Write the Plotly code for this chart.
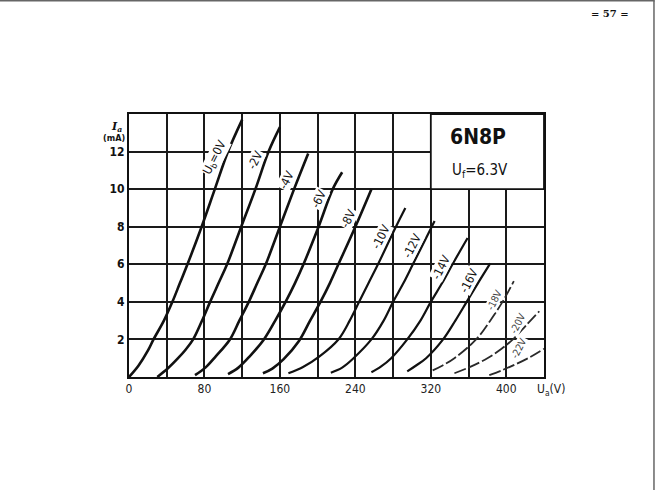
import plotly.graph_objects as go

# ---- data ----
grid_labels = ["U<sub>b</sub>=0V", "-2V", "-4V", "-6V", "-8V", "-10V", "-12V",
               "-14V", "-16V", "-18V", "-20V", "-22V"]

ua_0 = [0, 10, 20, 26, 37, 46, 54, 62, 77, 91, 105, 120]
ia_0 = [0, 0.6, 1.4, 2, 3, 4, 5, 6, 8, 10, 12, 13.7]
ua_2 = [30, 41, 52, 60, 68, 77, 86, 95, 104, 119, 134, 148, 160]
ia_2 = [0, 0.45, 1.0, 1.45, 2, 2.95, 4, 5, 6, 8, 10, 12, 13.3]
ua_4 = [70, 81, 92, 107, 117, 127, 136, 145, 160, 175, 190]
ia_4 = [0.1, 0.5, 1.1, 2, 3, 4, 5, 6, 8, 10, 11.9]
ua_6 = [105, 116, 128, 143, 155, 166, 176, 185, 201, 216, 226]
ia_6 = [0.15, 0.5, 1.1, 2, 3, 4, 5, 6, 8, 10, 10.9]
ua_8 = [142, 152, 164, 180, 192, 203, 213, 222, 240, 257]
ia_8 = [0.2, 0.45, 0.95, 1.9, 3, 4, 5, 6, 8, 10]
ua_10 = [169, 185, 202, 222, 234, 244, 254, 264, 283, 293]
ia_10 = [0.2, 0.55, 1.1, 2, 3, 4, 5, 6, 8, 9.0]
ua_12 = [214, 226, 238, 257, 270, 280, 291, 301, 321, 324]
ia_12 = [0.23, 0.5, 1.0, 2, 3, 4, 5, 6, 8, 8.3]
ua_14 = [257, 267, 278, 295, 309, 320, 332, 343, 359]
ia_14 = [0.25, 0.55, 1.0, 2, 3, 4, 5, 6, 7.4]
ua_16 = [295, 304, 315, 333, 346, 358, 370, 383]
ia_16 = [0.3, 0.6, 1.0, 2, 3, 4, 5, 6.05]
ua_18 = [322, 332, 345, 368, 383, 396, 408]
ia_18 = [0.35, 0.6, 1.0, 2, 3, 4, 5.1]
ua_20 = [345, 360, 380, 395, 407, 421, 435]
ia_20 = [0.2, 0.5, 1.0, 1.5, 2, 2.75, 3.5]
ua_22 = [382, 395, 411, 425, 440]
ia_22 = [0.1, 0.35, 0.7, 1.05, 1.5]

curves_ua = [ua_0, ua_2, ua_4, ua_6, ua_8, ua_10, ua_12, ua_14, ua_16, ua_18, ua_20, ua_22]
curves_ia = [ia_0, ia_2, ia_4, ia_6, ia_8, ia_10, ia_12, ia_14, ia_16, ia_18, ia_20, ia_22]

# label anchor points (Ua, Ia) for the curve labels
label_ua = [92, 134, 167, 201, 233, 267, 300, 331, 361, 388, 412, 413]
label_ia = [11.7, 11.55, 10.5, 9.5, 8.45, 7.47, 7.0, 5.87, 5.16, 4.1, 2.86, 1.53]

x_ticks = [0, 80, 160, 240, 320, 400]
y_ticks = [2, 4, 6, 8, 10, 12]

tube_name = "6N8P"
heater = "U<sub>f</sub>=6.3V"
page_no = "= 57 ="

# ---- figure ----
FONT = "DejaVu Sans Condensed, Liberation Sans Narrow, Arial Narrow, DejaVu Sans, sans-serif"
fig = go.Figure()

for i, (u, a) in enumerate(zip(curves_ua, curves_ia)):
    faded = i >= 9
    fig.add_trace(go.Scatter(
        x=u, y=a, mode="lines",
        line=dict(color="#111" if not faded else "#2a2a2a",
                  width=2.6 if i < 5 else (2.2 if not faded else 1.8),
                  shape="spline", smoothing=1.0,
                  dash="solid" if not faded else "12px,3px"),
        hoverinfo="skip", showlegend=False, cliponaxis=False))

for i, (t, u, a) in enumerate(zip(grid_labels, label_ua, label_ia)):
    fig.add_annotation(x=u, y=a, text=t, showarrow=False, textangle=-63,
                       bgcolor="white", borderpad=0,
                       font=dict(family=FONT, size=12 if i < 9 else 10,
                                 color="#111" if i < 9 else "#444"))

# label box (covers grid at upper right)
fig.add_shape(type="rect", x0=320, x1=440, y0=10, y1=14, layer="above",
              fillcolor="white", line=dict(color="#111", width=1.8))
fig.add_annotation(x=370, y=12.75, text="<b>" + tube_name + "</b>", showarrow=False,
                   font=dict(family=FONT, size=21, color="#111"))
fig.add_annotation(x=372, y=11.0, text=heater, showarrow=False,
                   font=dict(family=FONT, size=15, color="#111"))

# axis titles (paper coordinates)
fig.add_annotation(xref="paper", yref="paper", x=-0.029, y=0.951, xanchor="center", yanchor="middle",
                   text="<b><i>I<sub>a</sub></i></b>", showarrow=False,
                   font=dict(family="DejaVu Serif, serif", size=11, color="#111"))
fig.add_annotation(xref="paper", yref="paper", x=-0.037, y=0.908, xanchor="center", yanchor="middle",
                   text="<b>(mA)</b>", showarrow=False,
                   font=dict(family=FONT, size=9, color="#111"))
fig.add_annotation(xref="paper", yref="paper", x=1.016, y=-0.05, xanchor="center", yanchor="middle",
                   text="U<sub>a</sub>(V)", showarrow=False,
                   font=dict(family=FONT, size=12, color="#222"))

# page number
fig.add_annotation(xref="paper", yref="paper", x=1.159, y=1.381, xanchor="center", yanchor="middle",
                   text="<b>" + page_no + "</b>", showarrow=False,
                   font=dict(family="DejaVu Serif, serif", size=10, color="#111"))

# page frame (top and right edges of the scan)
fig.add_shape(type="line", xref="paper", yref="paper", x0=-0.311, x1=1.267, y0=1.431, y1=1.431,
              line=dict(color="#666", width=1.5))
fig.add_shape(type="line", xref="paper", yref="paper", x0=1.265, x1=1.265, y0=1.431, y1=-0.43,
              line=dict(color="#666", width=1.5))

fig.update_layout(
    width=655, height=490,
    margin=dict(l=129, r=111, t=114, b=113),
    paper_bgcolor="white", plot_bgcolor="white",
    showlegend=False,
    xaxis=dict(range=[0, 440], tickvals=x_ticks, ticktext=[str(v) for v in x_ticks],
               showgrid=True, gridcolor="#1a1a1a", gridwidth=1.5,
               minor=dict(dtick=40, tick0=0, showgrid=True, gridcolor="#1a1a1a", gridwidth=1.5),
               showline=True, linecolor="#111", linewidth=2, mirror=True,
               ticks="", zeroline=False, fixedrange=True,
               tickfont=dict(family=FONT, size=12, color="#222")),
    yaxis=dict(range=[0, 14], tickvals=y_ticks, ticktext=["<b>%d</b>" % v for v in y_ticks],
               showgrid=True, gridcolor="#1a1a1a", gridwidth=1.5,
               showline=True, linecolor="#111", linewidth=2, mirror=True,
               ticks="", zeroline=False, fixedrange=True,
               tickfont=dict(family=FONT, size=12, color="#111")),
)

fig.write_html("out.html")
